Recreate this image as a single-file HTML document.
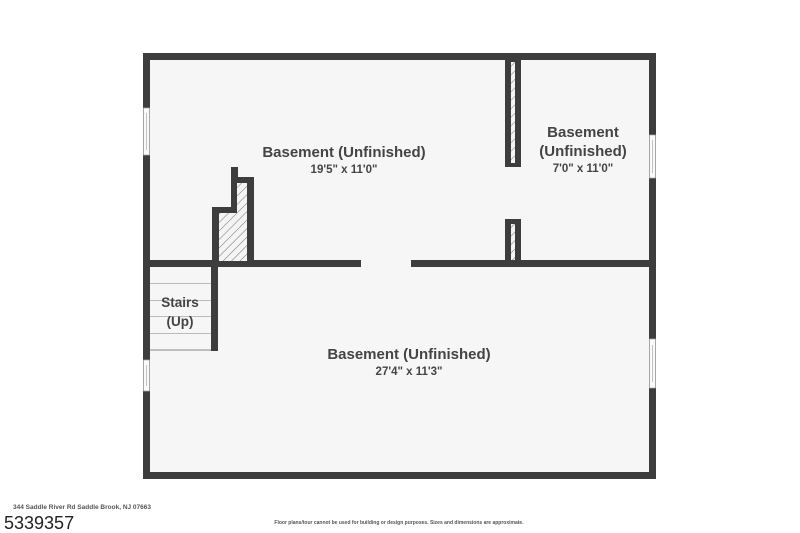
<!DOCTYPE html>
<html><head><meta charset="utf-8"><style>
html,body{margin:0;padding:0;background:#fff;width:800px;height:533px;overflow:hidden}
svg{display:block}
text{font-family:"Liberation Sans","DejaVu Sans",sans-serif;fill:#444;font-weight:bold}
</style></head><body>
<svg width="800" height="533" viewBox="0 0 800 533" xmlns="http://www.w3.org/2000/svg">
<defs>
<pattern id="h" width="6" height="6" patternUnits="userSpaceOnUse" patternTransform="rotate(45)">
<rect width="6" height="6" fill="#f4f4f4"/><line x1="0" y1="0" x2="0" y2="6" stroke="#777" stroke-width="1"/>
</pattern>
</defs>
<rect x="143" y="53" width="513" height="426" fill="#3d3d3d"/>
<rect x="150" y="60" width="499" height="412" fill="#f6f6f6"/>
<g fill="#fafafa" stroke="#aaa" stroke-width="0.7">
<rect x="143.5" y="108" width="6" height="47"/><line x1="146.5" y1="113" x2="146.5" y2="150"/>
<rect x="143.5" y="360" width="6" height="31"/><line x1="146.5" y1="365" x2="146.5" y2="386"/>
<rect x="649.5" y="135" width="6" height="43"/><line x1="652.5" y1="140" x2="652.5" y2="173"/>
<rect x="649.5" y="339" width="6" height="49"/><line x1="652.5" y1="345" x2="652.5" y2="382"/>
</g>
<rect x="150" y="260" width="211" height="7" fill="#3d3d3d"/>
<rect x="411" y="260" width="238" height="7" fill="#3d3d3d"/>
<rect x="505" y="60" width="16" height="107" fill="#3d3d3d"/>
<rect x="511" y="62" width="4" height="101" fill="url(#h)"/>
<rect x="505" y="219" width="16" height="42" fill="#3d3d3d"/>
<rect x="511" y="224" width="4" height="36" fill="url(#h)"/>
<path d="M212 263 V207 H231 V167 H238 V177 H254 V263 Z" fill="#3d3d3d"/>
<path d="M219 261 V213 H237 V183 H247 V261 Z" fill="url(#h)"/>
<rect x="150" y="267" width="61" height="83" fill="#f6f6f6"/>
<rect x="211" y="263" width="7" height="88" fill="#3d3d3d"/>
<g stroke="#bbb" stroke-width="1">
<line x1="150" y1="283.5" x2="211" y2="283.5"/>
<line x1="150" y1="300.5" x2="211" y2="300.5"/>
<line x1="150" y1="316.5" x2="211" y2="316.5"/>
<line x1="150" y1="333.5" x2="211" y2="333.5"/>
<line x1="150" y1="350" x2="211" y2="350" stroke="#888"/>
</g>
<text x="180" y="307" font-size="13.5" text-anchor="middle">Stairs</text>
<text x="180" y="326" font-size="13.5" text-anchor="middle">(Up)</text>
<text x="344" y="157" font-size="15" text-anchor="middle">Basement (Unfinished)</text>
<text x="344" y="173" font-size="11.5" text-anchor="middle">19'5" x 11'0"</text>
<text x="583" y="137" font-size="15" text-anchor="middle">Basement</text>
<text x="583" y="156" font-size="15" text-anchor="middle">(Unfinished)</text>
<text x="583" y="172" font-size="11.5" text-anchor="middle">7'0" x 11'0"</text>
<text x="409" y="359" font-size="15" text-anchor="middle">Basement (Unfinished)</text>
<text x="409" y="375" font-size="11.5" text-anchor="middle">27'4" x 11'3"</text>
<text x="13" y="509" font-size="6.5" style="fill:#555">344 Saddle River Rd Saddle Brook, NJ 07663</text>
<text x="4" y="529" font-size="18" style="fill:#222;font-weight:normal">5339357</text>
<text x="399" y="524" font-size="5" text-anchor="middle" style="fill:#555">Floor plans/tour cannot be used for building or design purposes. Sizes and dimensions are approximate.</text>
</svg>
</body></html>
